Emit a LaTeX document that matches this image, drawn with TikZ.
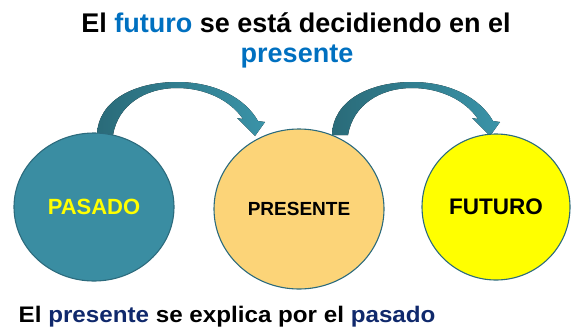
\documentclass[tikz,border=0pt]{standalone}
\usepackage{fontspec}
\setmainfont{Liberation Sans}
\usetikzlibrary{shapes.geometric,calc}
\definecolor{tealfill}{HTML}{3A8DA2}
\definecolor{tealline}{HTML}{2C6B7D}
\definecolor{presfill}{HTML}{FCD478}
\definecolor{futfill}{HTML}{FFFF00}
\definecolor{arrdark}{HTML}{2A6B79}
\definecolor{arrlight}{HTML}{3A93A8}
\definecolor{titleblue}{HTML}{0070C0}
\definecolor{navyblue}{HTML}{10296C}
\tikzset{
  circ/.style={ellipse, draw=tealline, line width=1.1pt, inner sep=0pt, font=\bfseries},
  curvearrow/.style={left color=arrdark, right color=arrlight, draw=none},
}
\newcommand{\curvedshape}{(0,0) .. controls (1,35) and (38,53) .. (80,53) .. controls (118,53) and (148,37) .. (161,14) -- (168,13) -- (158,-1) -- (140,17) -- (146,16) .. controls (133,35) and (108,47) .. (80,47) .. controls (48,47) and (21,30) .. (16,0) -- cycle}
\begin{document}
\begin{tikzpicture}[x=1pt,y=1pt]
\useasboundingbox (0,0) rectangle (572,-335);
% titles
\node[anchor=base, inner sep=0pt, font=\bfseries\fontsize{27}{32}\selectfont] (t1) at (296,-32.5) {El \textcolor{titleblue}{futuro} se está decidiendo en el};
\node[anchor=base, inner sep=0pt, font=\bfseries\fontsize{27}{32}\selectfont, text=titleblue] (t2) at (297,-62) {presente};
% node coordinates (hidden ellipses positions)
\coordinate (pn) at (94,-133);
\coordinate (qn) at (299,-129);
% arrows behind ellipses
\fill[curvearrow, shift={($(pn)+(3,-2)$)}] \curvedshape;
\fill[curvearrow, shift={($(qn)+(33,-6)$)}] \curvedshape;
% ellipses
\node[circ, fill=tealfill, minimum width=160pt, minimum height=148pt, text=futfill, font=\bfseries\fontsize{22}{26}\selectfont] (pasado) at (94,-207) {PASADO};
\node[circ, fill=presfill, minimum width=170pt, minimum height=160pt, font=\bfseries\fontsize{19}{23}\selectfont] (presente) at (299,-209) {PRESENTE};
\node[circ, fill=futfill, minimum width=148pt, minimum height=146pt, font=\bfseries\fontsize{22.5}{26}\selectfont] (futuro) at (496,-207) {FUTURO};
% bottom text
\node[anchor=base west, inner sep=0pt, xscale=1.075, font=\bfseries\fontsize{22.5}{26}\selectfont] (b1) at (18.5,-322) {El \textcolor{navyblue}{presente} se explica por el \textcolor{navyblue}{pasado}};
\end{tikzpicture}
\end{document}
